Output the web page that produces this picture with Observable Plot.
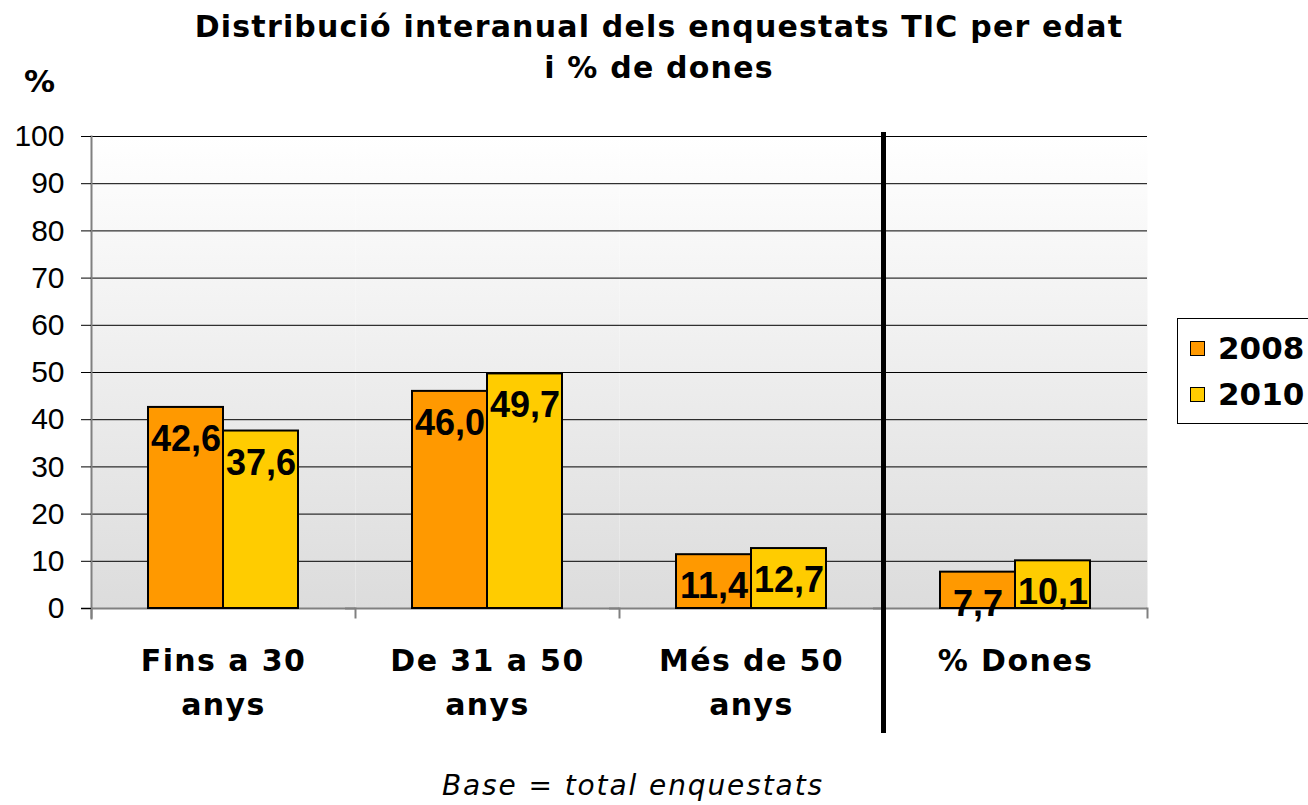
<!DOCTYPE html>
<html><head><meta charset="utf-8">
<script src="https://cdn.jsdelivr.net/npm/d3@7"></script>
<script src="https://cdn.jsdelivr.net/npm/@observablehq/plot@0.6"></script>
<style>
html,body{margin:0;padding:0;background:#fff;overflow:hidden}
#wrap{position:relative;width:1308px;height:805px;overflow:hidden}
#wrap svg{position:absolute;left:0;top:0}
.title{position:absolute;left:0;width:1318px;top:6px;text-align:center;font-family:"DejaVu Sans";font-weight:bold;font-size:30px;letter-spacing:1.2px;line-height:41px;color:#000}
.ylab{position:absolute;left:24px;top:64px;font-family:"DejaVu Sans";font-weight:bold;font-size:31px;line-height:34px}
.caption{position:absolute;left:0;width:1266px;top:766px;text-align:center;font-family:"DejaVu Sans";font-style:italic;font-size:28px;letter-spacing:1.9px;line-height:40px}
.legend{position:absolute;left:1177px;top:318px;width:150px;height:106px;border:1px solid #000;background:#fff;box-sizing:border-box}
.legend .item{position:absolute;left:12px;height:40px;display:flex;align-items:center;font-family:"DejaVu Sans";font-weight:bold;font-size:31px}
.legend .sw{width:13px;height:13px;border:1.5px solid #000;margin-right:13px;flex:none}
</style></head><body><div id="wrap"></div>
<script>
const categories = ["Fins a 30 anys", "De 31 a 50 anys", "Més de 50 anys", "% Dones"];
const tickLabels = ["Fins a 30\nanys", "De 31 a 50\nanys", "Més de 50\nanys", "% Dones"];
const years = ["2008", "2010"];
const values2008 = [42.6, 46.0, 11.4, 7.7];
const values2010 = [37.6, 49.7, 12.7, 10.1];
const yTicks = [0, 10, 20, 30, 40, 50, 60, 70, 80, 90, 100];
const colors = ["#FF9900", "#FFCC00"];
const titleText = "Distribució interanual dels enquestats TIC per edat\ni % de dones";
const captionText = "Base = total enquestats";

const data = categories.flatMap((c, i) => [
  {category: c, year: years[0], value: values2008[i]},
  {category: c, year: years[1], value: values2010[i]}
]);
const fmt = v => d3.format(".1f")(v).replace(".", ",");

const svg = Plot.plot({
  width: 1308, height: 805,
  marginLeft: 90, marginRight: 160, marginTop: 136, marginBottom: 197,
  fx: {domain: categories, padding: 0},
  x: {domain: years, paddingInner: 0, paddingOuter: 0.74, axis: null},
  y: {domain: [0, 100]},
  color: {domain: years, range: colors},
  style: {background: "transparent", overflow: "visible"},
  marks: [
    Plot.frame({fill: "url(#bgGrad)"}),
    Plot.gridY({ticks: yTicks, stroke: "#000", strokeOpacity: 1, strokeWidth: 1}),
    Plot.ruleY([0], {stroke: "#808080", strokeWidth: 2, insetLeft: -10}),
    Plot.frame({anchor: "left", stroke: "#808080", strokeWidth: 2, insetTop: 472, insetBottom: -9}),
    Plot.frame({fx: categories[3], anchor: "right", stroke: "#808080", strokeWidth: 2, insetTop: 472, insetBottom: -9}),
    Plot.frame({fx: categories[0], anchor: "left", stroke: "#808080", strokeWidth: 2, insetBottom: -10}),
    Plot.barY(data, {fx: "category", x: "year", y: "value", fill: "year", stroke: "#000", strokeWidth: 2}),
    Plot.text(data, {fx: "category", x: "year", y: "value", text: d => fmt(d.value), lineAnchor: "top", dy: 18,
      fontSize: 36, fontWeight: "bold", fontFamily: "Liberation Sans, Arial, sans-serif", fill: "#000"}),
    Plot.axisY({ticks: yTicks, tickSize: 10, tickPadding: 17, fontSize: 30, fontFamily: "Liberation Sans, Arial, sans-serif", label: null, stroke: "#000"}),
    Plot.axisFx({anchor: "bottom", tickSize: 0, tickPadding: 32, fontSize: 30, fontWeight: "bold", fontFamily: "DejaVu Sans",
      lineHeight: 1.45, label: null, tickFormat: d => tickLabels[categories.indexOf(d)]}),
    Plot.frame({fx: categories[3], anchor: "left", stroke: "#000", strokeWidth: 5, insetTop: -2, insetBottom: -122})
  ]
});
svg.insertAdjacentHTML("afterbegin",
  '<defs><linearGradient id="bgGrad" x1="0" y1="0" x2="0" y2="1"><stop offset="0" stop-color="#ffffff"/><stop offset="1" stop-color="#dcdcdc"/></linearGradient></defs>');
svg.querySelectorAll('g[aria-label="fx-axis tick label"] text').forEach(t => t.setAttribute("letter-spacing", "1.4"));

const wrap = document.getElementById("wrap");
wrap.appendChild(svg);

const title = document.createElement("div");
title.className = "title";
title.innerHTML = titleText.split("\n").join("<br>");
wrap.appendChild(title);

const ylab = document.createElement("div");
ylab.className = "ylab";
ylab.textContent = "%";
wrap.appendChild(ylab);

const cap = document.createElement("div");
cap.className = "caption";
cap.textContent = captionText;
wrap.appendChild(cap);

const legend = document.createElement("div");
legend.className = "legend";
years.forEach((y, i) => {
  const it = document.createElement("div");
  it.className = "item";
  it.style.top = (9 + i * 46) + "px";
  const sw = document.createElement("span");
  sw.className = "sw";
  sw.style.background = colors[i];
  it.appendChild(sw);
  it.appendChild(document.createTextNode(y));
  legend.appendChild(it);
});
wrap.appendChild(legend);
</script>
</body></html>
